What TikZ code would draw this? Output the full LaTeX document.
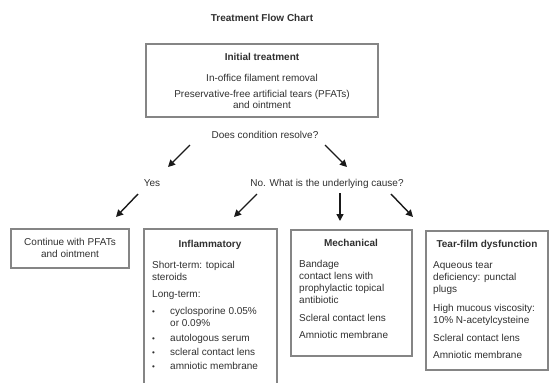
\documentclass[tikz,border=0pt]{standalone}
\usepackage{fontspec}
\setmainfont{Liberation Sans}
\usetikzlibrary{arrows.meta}
\definecolor{txtc}{HTML}{303030}
\definecolor{boxc}{HTML}{858585}
\definecolor{arrc}{HTML}{1A1A1A}
\begin{document}
\begin{tikzpicture}[x=1pt,y=-1pt,
  every node/.style={inner sep=0pt, text=txtc, font=\fontsize{10}{12}\selectfont},
  box/.style={draw=boxc, line width=1.2pt, rectangle},
  ln/.style={anchor=base west},
  cl/.style={anchor=base},
  hd/.style={anchor=base, font=\fontsize{10}{12}\selectfont\bfseries},
  bul/.style={anchor=base west, font=\fontsize{8}{10}\selectfont},
  arr/.style={line width=1.4pt, draw=arrc, -{Triangle[length=7pt,width=7pt]}}
]
\useasboundingbox (0,0) rectangle (550,383);
\clip (0,0) rectangle (550,383);

% title
\node[hd] (title) at (262,21) {Treatment Flow Chart};

% initial treatment
\node[box, minimum width=232, minimum height=73] (init) at (262,80.5) {};
\node[hd] (initH) at (262,60) {Initial treatment};
\node[cl] (init1) at (262,81) {In-office filament removal};
\node[cl] (init2) at (262,97) {Preservative-free artificial tears (PFATs)};
\node[cl] (init3) at (262,108) {and ointment};

% question and answers
\node[cl] (q) at (265,138) {Does condition resolve?};
\node[cl] (yes) at (152,186) {Yes};
\node[cl] (no) at (327,186) {No. What is the underlying cause?};

% arrows
\coordinate (a1s) at (190,145); \coordinate (a1e) at (168,167);
\coordinate (a2s) at (325,145); \coordinate (a2e) at (347,167);
\coordinate (a3s) at (138,194); \coordinate (a3e) at (116,217);
\coordinate (a4s) at (257,194); \coordinate (a4e) at (234,217);
\coordinate (a5s) at (340,193); \coordinate (a5e) at (340,221);
\coordinate (a6s) at (391,194); \coordinate (a6e) at (413,217);
\draw[arr] (a1s) -- (a1e);
\draw[arr] (a2s) -- (a2e);
\draw[arr] (a3s) -- (a3e);
\draw[arr] (a4s) -- (a4e);
\draw[arr] (a5s) -- (a5e);
\draw[arr] (a6s) -- (a6e);

% continue box
\node[box, minimum width=118, minimum height=39] (cont) at (70,248.5) {};
\node[cl] (cont1) at (70,245) {Continue with PFATs};
\node[cl] (cont2) at (70,257) {and ointment};

% inflammatory
\node[box, minimum width=133, minimum height=161] (infl) at (210.5,309.5) {};
\node[hd] (inflH) at (210,247) {Inflammatory};
\node[ln] (inf1) at (152,268) {Short-term: topical};
\node[ln] (inf2) at (152,280) {steroids};
\node[ln] (inf3) at (152,297) {Long-term:};
\node[bul] (b1) at (152,314) {\textbullet};
\node[ln] (inf4) at (170,314) {cyclosporine 0.05\%};
\node[ln] (inf5) at (170,326) {or 0.09\%};
\node[bul] (b2) at (152,341) {\textbullet};
\node[ln] (inf6) at (170,341) {autologous serum};
\node[bul] (b3) at (152,355) {\textbullet};
\node[ln] (inf7) at (170,355) {scleral contact lens};
\node[bul] (b4) at (152,369) {\textbullet};
\node[ln] (inf8) at (170,369) {amniotic membrane};

% mechanical
\node[box, minimum width=121, minimum height=126] (mech) at (351.5,293) {};
\node[hd] (mechH) at (351,246) {Mechanical};
\node[ln] (m1) at (299,267) {Bandage};
\node[ln] (m2) at (299,279) {contact lens with};
\node[ln] (m3) at (299,291) {prophylactic topical};
\node[ln] (m4) at (299,303) {antibiotic};
\node[ln] (m5) at (299,321) {Scleral contact lens};
\node[ln] (m6) at (299,338) {Amniotic membrane};

% tear-film
\node[box, minimum width=122, minimum height=139] (tear) at (487,300.5) {};
\node[hd] (tearH) at (487,247) {Tear-film dysfunction};
\node[ln] (t1) at (433,268) {Aqueous tear};
\node[ln] (t2) at (433,280) {deficiency: punctal};
\node[ln] (t3) at (433,292) {plugs};
\node[ln] (t4) at (433,311) {High mucous viscosity:};
\node[ln] (t5) at (433,323) {10\% N-acetylcysteine};
\node[ln] (t6) at (433,341) {Scleral contact lens};
\node[ln] (t7) at (433,358) {Amniotic membrane};
\end{tikzpicture}
\end{document}
